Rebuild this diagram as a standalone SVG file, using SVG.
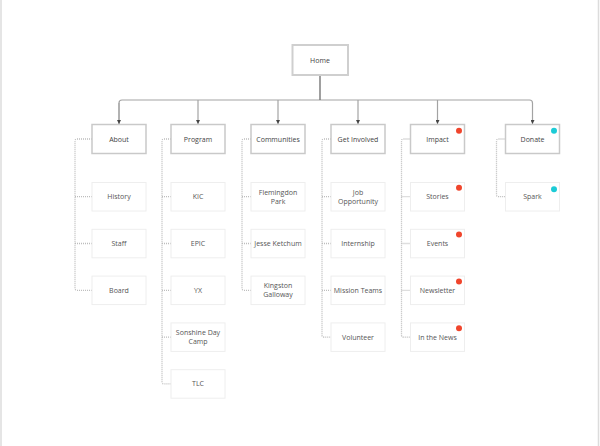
<svg xmlns="http://www.w3.org/2000/svg" width="600" height="446" viewBox="0 0 600 446">
<defs>
<marker id="arr" markerWidth="5" markerHeight="4" refX="4" refY="2" orient="auto" markerUnits="userSpaceOnUse">
<path d="M0,0 L4,2 L0,4 z" fill="#444"/>
</marker>
<style>
.pg{stroke:#dcdcdc;stroke-width:1.5;fill:none}
.home{fill:#fff;stroke:#cfcfcf;stroke-width:2}
.par{fill:#fff;stroke:#c9c9c9;stroke-width:1.5}
.ch{fill:#fff;stroke:#eeeeee;stroke-width:1}
.t{font-family:"Open Sans","Liberation Sans",sans-serif;font-size:7px;fill:#444;text-anchor:middle}
.tc{font-family:"Open Sans","Liberation Sans",sans-serif;font-size:7px;fill:#555;text-anchor:middle}
.main{fill:none;stroke:#a3a3a3;stroke-width:1.2}
.stem{fill:none;stroke:#777;stroke-width:1.4}
.dot{fill:none;stroke:#bdbdbd;stroke-width:1.3;stroke-dasharray:1 1}
.red{fill:#f0452c}
.cyan{fill:#1ccbd6}
</style>
</defs>
<rect width="600" height="446" fill="#fff"/>
<line class="pg" x1="1" y1="0" x2="1" y2="446"/>
<line class="pg" x1="598.5" y1="0" x2="598.5" y2="446"/>

<g id="connectors">
<path class="main" d="M119,124 V103 Q119,100 122,100 H529.5 Q532.5,100 532.5,103 V124" marker-end="url(#arr)"/>
<path class="main" d="M119,103 V124" marker-end="url(#arr)"/>
<path class="main" d="M198,100 V124" marker-end="url(#arr)"/>
<path class="main" d="M278,100 V124" marker-end="url(#arr)"/>
<path class="main" d="M358,100 V124" marker-end="url(#arr)"/>
<path class="main" d="M437.5,100 V124" marker-end="url(#arr)"/>
<path class="stem" d="M320,75 V100"/>
<path class="dot" d="M92,139 H77 Q75,139 75,141 V288.3 Q75,290.3 77,290.3 H92 M75,196.7 H92 M75,243.5 H92"/>
<path class="dot" d="M171,139 H164 Q162,139 162,141 V381.9 Q162,383.9 164,383.9 H171 M162,196.7 H171 M162,243.5 H171 M162,290.3 H171 M162,337.1 H171"/>
<path class="dot" d="M251,139 H244 Q242,139 242,141 V288.3 Q242,290.3 244,290.3 H251 M242,196.7 H251 M242,243.5 H251"/>
<path class="dot" d="M331,139 H324 Q322,139 322,141 V335.1 Q322,337.1 324,337.1 H331 M322,196.7 H331 M322,243.5 H331 M322,290.3 H331"/>
<path class="dot" d="M410.5,139 H403.5 Q401.5,139 401.5,141 V335.1 Q401.5,337.1 403.5,337.1 H410.5 M401.5,196.7 H410.5 M401.5,243.5 H410.5 M401.5,290.3 H410.5"/>
<path class="dot" d="M505.5,139 H498.5 Q496.5,139 496.5,141 V194.7 Q496.5,196.7 498.5,196.7 H505.5"/>
</g>

<g id="home"><rect class="home" x="292.5" y="45" width="55.5" height="30"/><text class="t" x="320" y="62.5">Home</text></g>

<g id="about"><rect class="par" x="92" y="124.5" width="54" height="29"/><text class="t" x="119" y="141.5">About</text></g>
<g id="history"><rect class="ch" x="92" y="182.5" width="54" height="28.5"/><text class="tc" x="119" y="199.2">History</text></g>
<g id="staff"><rect class="ch" x="92" y="229.3" width="54" height="28.5"/><text class="tc" x="119" y="246">Staff</text></g>
<g id="board"><rect class="ch" x="92" y="276.1" width="54" height="28.5"/><text class="tc" x="119" y="292.8">Board</text></g>

<g id="program"><rect class="par" x="171" y="124.5" width="54" height="29"/><text class="t" x="198" y="141.5">Program</text></g>
<g id="kic"><rect class="ch" x="171" y="182.5" width="54" height="28.5"/><text class="tc" x="198" y="199.2">KIC</text></g>
<g id="epic"><rect class="ch" x="171" y="229.3" width="54" height="28.5"/><text class="tc" x="198" y="246">EPIC</text></g>
<g id="yx"><rect class="ch" x="171" y="276.1" width="54" height="28.5"/><text class="tc" x="198" y="292.8">YX</text></g>
<g id="sonshine"><rect class="ch" x="171" y="322.9" width="54" height="28.5"/><text class="tc" x="198" y="335">Sonshine Day</text><text class="tc" x="198" y="344.2">Camp</text></g>
<g id="tlc"><rect class="ch" x="171" y="369.7" width="54" height="28.5"/><text class="tc" x="198" y="386.4">TLC</text></g>

<g id="communities"><rect class="par" x="251" y="124.5" width="54" height="29"/><text class="t" x="278" y="141.5">Communities</text></g>
<g id="flemingdon"><rect class="ch" x="251" y="182.5" width="54" height="28.5"/><text class="tc" x="278" y="194.6">Flemingdon</text><text class="tc" x="278" y="203.8">Park</text></g>
<g id="jesse"><rect class="ch" x="251" y="229.3" width="54" height="28.5"/><text class="tc" x="278" y="246">Jesse Ketchum</text></g>
<g id="kingston"><rect class="ch" x="251" y="276.1" width="54" height="28.5"/><text class="tc" x="278" y="288.2">Kingston</text><text class="tc" x="278" y="297.4">Galloway</text></g>

<g id="getinvolved"><rect class="par" x="331" y="124.5" width="54" height="29"/><text class="t" x="358" y="141.5">Get Involved</text></g>
<g id="job"><rect class="ch" x="331" y="182.5" width="54" height="28.5"/><text class="tc" x="358" y="194.6">Job</text><text class="tc" x="358" y="203.8">Opportunity</text></g>
<g id="internship"><rect class="ch" x="331" y="229.3" width="54" height="28.5"/><text class="tc" x="358" y="246">Internship</text></g>
<g id="mission"><rect class="ch" x="331" y="276.1" width="54" height="28.5"/><text class="tc" x="358" y="292.8">Mission Teams</text></g>
<g id="volunteer"><rect class="ch" x="331" y="322.9" width="54" height="28.5"/><text class="tc" x="358" y="339.6">Volunteer</text></g>

<g id="impact"><rect class="par" x="410.5" y="124.5" width="54" height="29"/><text class="t" x="437.5" y="141.5">Impact</text><circle class="red" cx="459" cy="130.7" r="3"/></g>
<g id="stories"><rect class="ch" x="410.5" y="182.5" width="54" height="28.5"/><text class="tc" x="437.5" y="199.2">Stories</text><circle class="red" cx="459" cy="187.8" r="3"/></g>
<g id="events"><rect class="ch" x="410.5" y="229.3" width="54" height="28.5"/><text class="tc" x="437.5" y="246">Events</text><circle class="red" cx="459" cy="234.6" r="3"/></g>
<g id="newsletter"><rect class="ch" x="410.5" y="276.1" width="54" height="28.5"/><text class="tc" x="437.5" y="292.8">Newsletter</text><circle class="red" cx="459" cy="281.4" r="3"/></g>
<g id="inthenews"><rect class="ch" x="410.5" y="322.9" width="54" height="28.5"/><text class="tc" x="437.5" y="339.6">In the News</text><circle class="red" cx="459" cy="328.2" r="3"/></g>

<g id="donate"><rect class="par" x="505.5" y="124.5" width="54" height="29"/><text class="t" x="532.5" y="141.5">Donate</text><circle class="cyan" cx="554" cy="130.7" r="3"/></g>
<g id="spark"><rect class="ch" x="505.5" y="182.5" width="54" height="28.5"/><text class="tc" x="532.5" y="199.2">Spark</text><circle class="cyan" cx="554" cy="189.3" r="3"/></g>
</svg>
